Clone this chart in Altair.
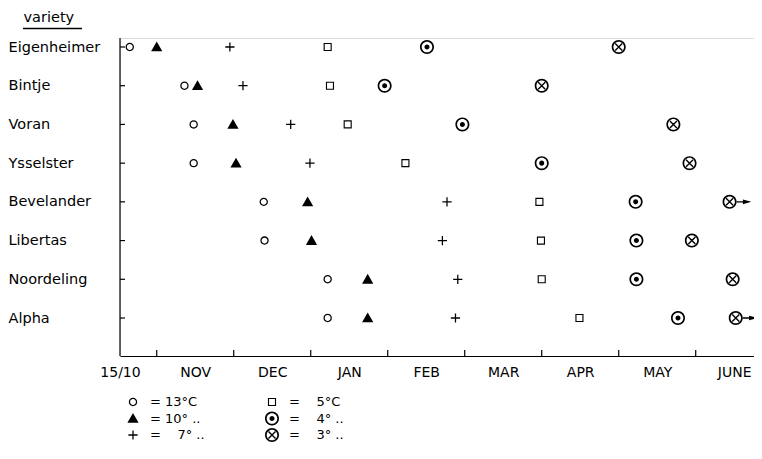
import altair as alt
import pandas as pd

# ---------------- data ----------------
# x values are "months after 1 October" on the chart's equal-month scale
varieties = ["Eigenheimer", "Bintje", "Voran", "Ysselster",
             "Bevelander", "Libertas", "Noordeling", "Alpha"]
temps = ["13°C", "10° ..", "7° ..", "5°C", "4° ..", "3° .."]
t13 = [0.65, 1.36, 1.48, 1.48, 2.39, 2.40, 3.22, 3.22]
t10 = [1.00, 1.53, 1.99, 2.03, 2.96, 3.01, 3.74, 3.74]
t7 = [1.95, 2.12, 2.74, 2.99, 4.77, 4.71, 4.91, 4.88]
t5 = [3.22, 3.25, 3.48, 4.23, 5.97, 5.99, 6.00, 6.49]
t4 = [4.51, 3.96, 4.97, 6.00, 7.22, 7.23, 7.23, 7.77]
t3 = [7.00, 6.00, 7.71, 7.92, 8.44, 7.95, 8.48, 8.52]
beyond_june = ["Bevelander", "Alpha"]          # 3° not reached before end of June
month_ticks = [1, 2, 3, 4, 5, 6, 7, 8]           # 1 Nov ... 1 June
month_labels = ["NOV", "DEC", "JAN", "FEB", "MAR", "APR", "MAY", "JUNE"]
start_label = "15/10"
x_start, x_end = 0.523, 8.757

FONT = "DejaVu Sans"

rows = []
for temp, vals in zip(temps, [t13, t10, t7, t5, t4, t3]):
    for v, m in zip(varieties, vals):
        rows.append({"variety": v, "temp": temp, "month": m})
df = pd.DataFrame(rows)
arrows = df[(df["temp"] == temps[5]) & (df["variety"].isin(beyond_june))]


# ---------------- marker shapes (unit = 7 px) ----------------
def circ(r, cw=True):
    s = 1 if cw else 0
    return f"M{r},0A{r},{r},0,1,{s},{-r},0A{r},{r},0,1,{s},{r},0Z"


def rect(x0, y0, x1, y1):
    return f"M{x0},{y0}L{x1},{y0}L{x1},{y1}L{x0},{y1}Z"


def rect_rev(x0, y0, x1, y1):
    return f"M{x0},{y0}L{x0},{y1}L{x1},{y1}L{x1},{y0}Z"


open_circle = circ(0.6) + circ(0.42, False)
triangle = "M0,-0.78L0.8,0.62L-0.8,0.62Z"
plus = rect(-0.66, -0.09, 0.66, 0.09) + rect(-0.09, -0.66, 0.09, 0.66)
square = rect(-0.58, -0.58, 0.58, 0.58) + rect_rev(-0.42, -0.42, 0.42, 0.42)
ring = circ(1.0) + circ(0.76, False)
circled_dot = ring + circ(0.36)
circled_x = (ring
             + "M-0.43,-0.57L0.57,0.43L0.43,0.57L-0.57,-0.43Z"
             + "M-0.57,0.43L0.43,-0.57L0.57,-0.43L-0.43,0.57Z")
arrow = rect(1.0, -0.09, 2.1, 0.09) + "M1.9,-0.33L3.1,0L1.9,0.33Z"

shapes = [open_circle, triangle, plus, square, circled_dot, circled_x]

W, H = 634, 318
y_scale = alt.Scale(type="point", domain=varieties, range=[9, 280], padding=0)
x_scale = alt.Scale(domain=[x_start, x_end], nice=False, zero=False)

label_expr = ("datum.value < 1 ? '" + start_label + "' : ["
              + ",".join(f"'{m}'" for m in month_labels)
              + "][floor(datum.value) - 1]")

points = alt.Chart(df).mark_point(
    filled=True, size=196, color="black", strokeWidth=0, opacity=1
).encode(
    x=alt.X("month:Q", scale=x_scale,
            axis=alt.Axis(values=[x_start] + [m + 0.5 for m in month_ticks],
                          labelExpr=label_expr, ticks=False, grid=False,
                          title=None, labelFlush=False, labelOverlap=False,
                          labelFont=FONT, labelFontSize=14, labelColor="black",
                          labelPadding=9, domainColor="black", domainWidth=1.2)),
    y=alt.Y("variety:N", scale=y_scale,
            axis=alt.Axis(ticks=False, grid=False, domain=False, title="variety",
                          titleAngle=0, titleAlign="left", titleX=-97, titleY=-17,
                          titleBaseline="alphabetic", titleFont=FONT,
                          titleFontSize=14.5, titleFontWeight="normal",
                          titleColor="black", labelAlign="left",
                          labelPadding=112, labelFont=FONT, labelFontSize=14.5,
                          labelColor="black")),
    shape=alt.Shape("temp:N",
                    scale=alt.Scale(domain=temps, range=shapes),
                    legend=alt.Legend(title=None, orient="none", legendX=6,
                                      legendY=357, columns=2, columnPadding=60,
                                      rowPadding=2.5, padding=0,
                                      symbolSize=196, symbolFillColor="black",
                                      symbolStrokeWidth=0, symbolOpacity=1,
                                      labelFont=FONT, labelFontSize=13,
                                      labelColor="black", labelOffset=10,
                                      labelExpr="'=\u00a0' + (indexof(datum.label, '°') == 1 ? '\u2007\u00a0' : '') + datum.label")),
)

arrow_layer = alt.Chart(arrows).mark_point(
    filled=True, size=196, color="black", strokeWidth=0, opacity=1, shape=arrow
).encode(x=alt.X("month:Q", scale=x_scale), y=alt.Y("variety:N", scale=y_scale))

ytick_layer = alt.Chart(pd.DataFrame({"variety": varieties})).mark_rule(
    color="black", strokeWidth=1.2
).encode(y=alt.Y("variety:N", scale=y_scale), x=alt.value(0), x2=alt.value(5))

xtick_layer = alt.Chart(pd.DataFrame({"month": month_ticks})).mark_rule(
    color="black", strokeWidth=1.2
).encode(x=alt.X("month:Q", scale=x_scale), y=alt.value(H), y2=alt.value(H - 6))

frame = pd.DataFrame({"k": [0]})
y_axis_line = alt.Chart(frame).mark_rule(color="black", strokeWidth=1.2).encode(
    x=alt.value(0), y=alt.value(0), y2=alt.value(H))

underline = alt.Chart(frame).mark_rule(
    color="black", strokeWidth=1.5
).encode(x=alt.value(-97), x2=alt.value(-38), y=alt.value(-9.5))

chart = alt.layer(points, arrow_layer, ytick_layer, xtick_layer, y_axis_line,
                  underline).properties(
    width=W, height=H,
    autosize=alt.AutoSizeParams(type="none"),
    padding={"left": 112, "top": 30, "right": 0, "bottom": 95},
).configure_view(stroke=None).configure(background="white")

chart.save("out.html", embed_options={"renderer": "svg", "actions": False})
